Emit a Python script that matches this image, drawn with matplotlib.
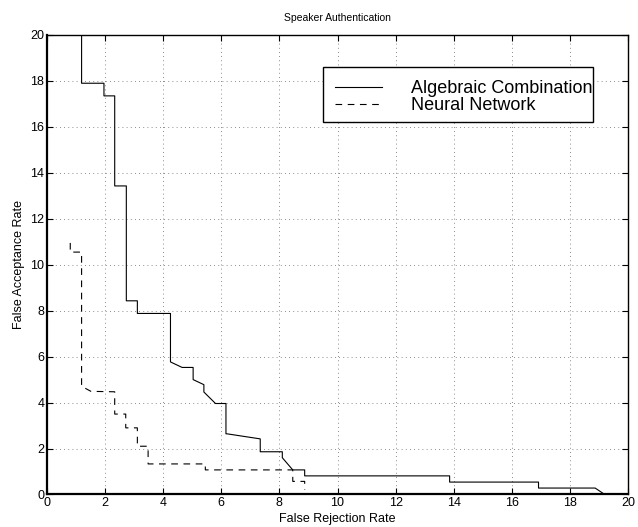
import numpy as np
import matplotlib
matplotlib.use("Agg")
import matplotlib.pyplot as plt
from matplotlib.patches import Rectangle

plt.rcParams['font.family'] = ['Liberation Sans', 'DejaVu Sans']

# Algebraic Combination (solid)
alg_x = [1.19, 1.19, 1.96, 1.96, 2.33, 2.33, 2.73, 2.73, 3.11, 3.11, 4.25, 4.25,
         4.65, 5.03, 5.03, 5.40, 5.40, 5.80, 6.16, 6.16, 6.20, 7.34, 7.34, 8.10,
         8.10, 8.46, 8.87, 8.87, 13.86, 13.86, 16.92, 16.92, 18.87, 19.20]
alg_y = [20.0, 17.9, 17.9, 17.35, 17.35, 13.43, 13.43, 8.43, 8.43, 7.88, 7.88, 5.77,
         5.53, 5.53, 5.0, 4.78, 4.46, 3.96, 3.96, 2.64, 2.64, 2.42, 1.86, 1.86,
         1.6, 1.07, 1.07, 0.81, 0.81, 0.54, 0.54, 0.28, 0.28, 0.0]

# Neural Network (dashed)
nn_x = [0.80, 0.80, 1.19, 1.19, 1.51, 2.33, 2.33, 2.71, 2.71, 3.11, 3.11, 3.48,
        3.48, 5.45, 5.45, 8.46, 8.46, 8.87, 8.87]
nn_y = [10.95, 10.55, 10.55, 4.71, 4.49, 4.47, 3.5, 3.5, 2.9, 2.9, 2.1, 2.1,
        1.33, 1.33, 1.07, 1.07, 0.57, 0.57, 0.2]

fig = plt.figure(figsize=(6.38, 5.27), dpi=100)
ax = fig.add_axes([0.0737, 0.0617, 0.9106, 0.8719])

ax.plot(alg_x, alg_y, color='black', linewidth=0.8, label='Algebraic Combination')
ax.plot(nn_x, nn_y, color='black', linewidth=0.8, linestyle=(0, (6, 5)),
        label='Neural Network')

ax.set_xlim(0, 20)
ax.set_ylim(0, 20)
ax.set_xticks(np.arange(0, 21, 2))
ax.set_yticks(np.arange(0, 21, 2))
ax.grid(True, color='#666666', linestyle=(0, (1, 4)), linewidth=0.6)
ax.tick_params(direction='in', length=4, width=0.8, labelsize=9, pad=2,
               top=True, right=True)
for s in ax.spines.values():
    s.set_linewidth(1.0)
ax.spines['bottom'].set_linewidth(1.6)
ax.spines['left'].set_linewidth(1.6)

ax.set_title('Speaker Authentication', fontsize=7.5, pad=10)
ax.set_xlabel('False Rejection Rate', fontsize=9, labelpad=3)
ax.set_ylabel('False Acceptance Rate', fontsize=9, labelpad=4)

# legend without its own frame, the box is drawn separately (MATLAB style)
leg = ax.legend(loc='upper left', bbox_to_anchor=(0.496, 0.901), fontsize=13,
                frameon=False, handlelength=2.6, handletextpad=1.6,
                labelspacing=0.0, borderpad=0, borderaxespad=0)
ax.add_patch(Rectangle((0.475, 0.811), 0.465, 0.119, transform=ax.transAxes,
                       facecolor='white', edgecolor='black', linewidth=1.0,
                       zorder=4))
leg.set_zorder(5)

fig.savefig('out.png', dpi=100)
